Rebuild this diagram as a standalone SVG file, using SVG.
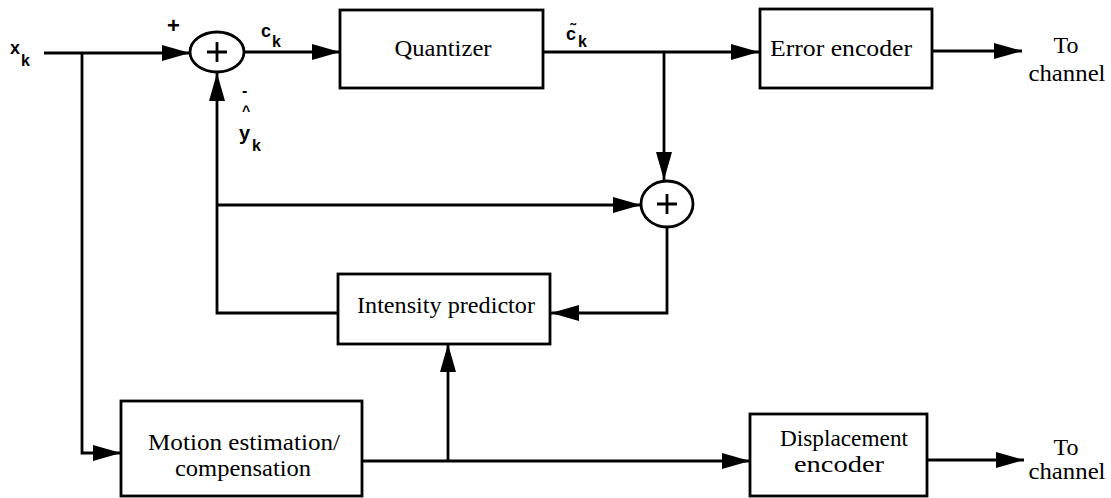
<svg xmlns="http://www.w3.org/2000/svg" width="1111" height="498" viewBox="0 0 1111 498">
  <style>
    .box { fill: #ffffff; stroke: #000000; stroke-width: 2.8; }
    .sum { fill: #ffffff; stroke: #000000; stroke-width: 2.8; }
    .plus { stroke: #000000; stroke-width: 2.8; fill: none; }
    .arrow { fill: none; stroke: #000000; stroke-width: 2.8; marker-end: url(#head); }
    .lbl { font-family: "Liberation Serif", "Times New Roman", serif; font-size: 24px; fill: #000000; text-anchor: middle; }
    .sym { font-family: "Liberation Sans", Arial, sans-serif; font-size: 18px; font-weight: bold; fill: #000000; }
    .sub { font-family: "Liberation Sans", Arial, sans-serif; font-size: 16px; font-weight: bold; fill: #000000; }
  </style>
  <defs>
    <marker id="head" markerUnits="userSpaceOnUse" markerWidth="30" markerHeight="18" refX="28" refY="8" orient="auto">
      <path d="M0,0 L28,8 L0,16 z" fill="#000000"/>
    </marker>
  </defs>

  <rect width="1111" height="498" fill="#ffffff"/>

  <!-- connectors -->
  <g id="connectors">
    <!-- input x_k to the first summer -->
    <line class="arrow" x1="44" y1="53" x2="190" y2="53"/>
    <!-- input branch to motion estimation -->
    <polyline class="arrow" points="82,53 82,453 121,453"/>
    <!-- summer output c_k to quantizer -->
    <line class="arrow" x1="244" y1="52" x2="340" y2="52"/>
    <!-- quantized error to error encoder -->
    <line class="arrow" x1="543" y1="52" x2="759" y2="52"/>
    <!-- quantized error down to the reconstruction summer -->
    <line class="arrow" x1="664" y1="52" x2="664" y2="180"/>
    <!-- error encoder to channel -->
    <line class="arrow" x1="932" y1="51" x2="1022" y2="51"/>
    <!-- prediction feedback up to the first summer -->
    <polyline class="arrow" points="338,313 217,313 217,73"/>
    <!-- prediction to the reconstruction summer -->
    <line class="arrow" x1="217" y1="205" x2="641" y2="205"/>
    <!-- reconstruction back into the intensity predictor -->
    <polyline class="arrow" points="667,227 667,313 551,313"/>
    <!-- motion output to displacement encoder -->
    <line class="arrow" x1="362" y1="461" x2="750" y2="461"/>
    <!-- motion output up to intensity predictor -->
    <line class="arrow" x1="448" y1="461" x2="448" y2="344"/>
    <!-- displacement encoder to channel -->
    <line class="arrow" x1="927" y1="460" x2="1024" y2="460"/>
  </g>

  <!-- summing junction (prediction error) -->
  <g id="sum1">
    <ellipse class="sum" cx="217" cy="52" rx="27" ry="20"/>
    <path class="plus" d="M207,52 H227 M217,42 V62"/>
  </g>

  <!-- summing junction (reconstruction) -->
  <g id="sum2">
    <ellipse class="sum" cx="667" cy="204" rx="26" ry="23"/>
    <path class="plus" d="M657,204 H677 M667,194 V214"/>
  </g>

  <g id="quantizer">
    <rect class="box" x="340" y="10" width="203" height="78"/>
    <text class="lbl" x="443" y="56" textLength="97" lengthAdjust="spacingAndGlyphs">Quantizer</text>
  </g>

  <g id="error-encoder">
    <rect class="box" x="760" y="9" width="172" height="79"/>
    <text class="lbl" x="841" y="56" textLength="142" lengthAdjust="spacingAndGlyphs">Error encoder</text>
  </g>

  <g id="intensity-predictor">
    <rect class="box" x="338" y="274" width="212" height="70"/>
    <text class="lbl" x="446" y="313" textLength="178" lengthAdjust="spacingAndGlyphs">Intensity predictor</text>
  </g>

  <g id="motion-estimation">
    <rect class="box" x="121" y="401" width="241" height="95"/>
    <text class="lbl" x="244" y="450" textLength="192" lengthAdjust="spacingAndGlyphs">Motion estimation/</text>
    <text class="lbl" x="243" y="476" textLength="136" lengthAdjust="spacingAndGlyphs">compensation</text>
  </g>

  <g id="displacement-encoder">
    <rect class="box" x="750" y="414" width="177" height="82"/>
    <text class="lbl" x="844" y="446" textLength="128" lengthAdjust="spacingAndGlyphs">Displacement</text>
    <text class="lbl" x="839" y="472" textLength="90" lengthAdjust="spacingAndGlyphs">encoder</text>
  </g>

  <!-- channel outputs -->
  <g id="out-top">
    <text class="lbl" x="1066" y="53">To</text>
    <text class="lbl" x="1067" y="81" textLength="77" lengthAdjust="spacingAndGlyphs">channel</text>
  </g>
  <g id="out-bottom">
    <text class="lbl" x="1066" y="455">To</text>
    <text class="lbl" x="1067" y="479" textLength="77" lengthAdjust="spacingAndGlyphs">channel</text>
  </g>

  <!-- signal labels -->
  <g id="signal-labels">
    <text class="sym" x="10" y="54">x</text>
    <text class="sub" x="21" y="66">k</text>
    <text class="sym" x="167" y="33" style="font-size:22px">+</text>
    <text class="sym" x="261" y="37">c</text>
    <text class="sub" x="272" y="47">k</text>
    <text class="sym" x="566" y="40">c&#x303;</text>
    <text class="sub" x="578" y="47">k</text>
    <text class="sym" x="242" y="96" style="font-size:16px">-</text>
    <text class="sym" x="242" y="116" style="font-size:14px">^</text>
    <text class="sym" x="239" y="140" style="font-size:20px">y</text>
    <text class="sub" x="252" y="151">k</text>
  </g>
</svg>
